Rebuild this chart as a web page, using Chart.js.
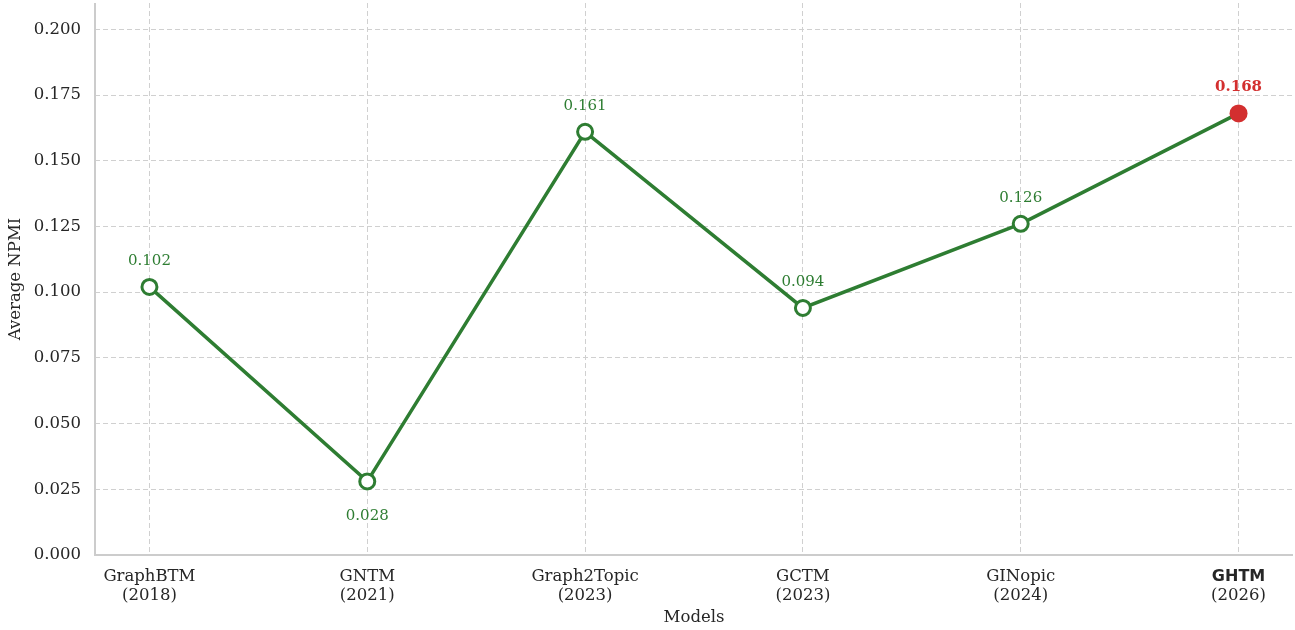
<!DOCTYPE html>
<html>
<head>
<meta charset="utf-8">
<script src="https://cdn.jsdelivr.net/npm/chart.js@4"></script>
<style>
  html, body { margin: 0; padding: 0; background: #fff; }
  #chart { display: block; }
</style>
</head>
<body>
<canvas id="chart" width="1295" height="630"></canvas>
<script>
// 数据
const modelNames = ['GraphBTM', 'GNTM', 'Graph2Topic', 'GCTM', 'GINopic', 'GHTM'];
const modelYears = ['(2018)', '(2021)', '(2023)', '(2023)', '(2024)', '(2026)'];
const npmiValues = [0.102, 0.028, 0.161, 0.094, 0.126, 0.168];
const labelBelow = [false, true, false, false, false, false];
const yTicks = [0, 0.025, 0.05, 0.075, 0.1, 0.125, 0.15, 0.175, 0.2];

const GREEN = '#2e7d32';
const RED = '#d32f2f';
const TEXT = '#262626';
const SERIF = '"DejaVu Serif", serif';
const bestIndex = npmiValues.length - 1;

// 数据点标签 + 两行x轴标签 + 坐标轴线
const labelPlugin = {
    id: 'labelPlugin',
    beforeDatasetsDraw(chart) {
        const ctx = chart.ctx;
        const a = chart.chartArea;
        ctx.save();
        ctx.strokeStyle = '#cccccc';
        ctx.lineWidth = 2;
        ctx.setLineDash([]);
        ctx.beginPath();
        ctx.moveTo(a.left, a.top);
        ctx.lineTo(a.left, a.bottom);
        ctx.lineTo(a.right, a.bottom);
        ctx.stroke();
        ctx.restore();
    },
    afterDatasetsDraw(chart) {
        const ctx = chart.ctx;
        const meta = chart.getDatasetMeta(0);
        ctx.save();
        ctx.textAlign = 'center';
        ctx.textBaseline = 'middle';
        meta.data.forEach((pt, i) => {
            const best = i === bestIndex;
            ctx.font = (best ? 'bold ' : '') + '15px ' + SERIF;
            ctx.fillStyle = best ? RED : GREEN;
            const dy = labelBelow[i] ? 35 : -26;
            ctx.fillText(npmiValues[i].toFixed(3), pt.x, pt.y + dy);
        });

        const xs = chart.scales.x;
        const top = chart.chartArea.bottom;
        modelNames.forEach((name, i) => {
            const x = xs.getPixelForValue(i);
            ctx.fillStyle = TEXT;
            ctx.font = i === bestIndex ? 'bold 16px "DejaVu Sans", sans-serif' : '16.5px ' + SERIF;
            ctx.fillText(name, x, top + 22);
            ctx.font = '16.5px ' + SERIF;
            ctx.fillText(modelYears[i], x, top + 41);
        });
        ctx.restore();
    }
};

const points = npmiValues.map((v, i) => ({ x: i, y: v }));

new Chart(document.getElementById('chart'), {
    type: 'line',
    data: {
        datasets: [{
            label: 'Average NPMI',
            data: points,
            borderColor: GREEN,
            borderWidth: 3.5,
            tension: 0,
            clip: false,
            pointRadius: npmiValues.map((v, i) => i === bestIndex ? 9 : 7.5),
            pointBorderWidth: npmiValues.map((v, i) => i === bestIndex ? 0 : 3),
            pointBackgroundColor: npmiValues.map((v, i) => i === bestIndex ? RED : '#ffffff'),
            pointBorderColor: npmiValues.map((v, i) => i === bestIndex ? RED : GREEN)
        }]
    },
    options: {
        responsive: false,
        animation: false,
        layout: { autoPadding: false, padding: { left: 0, right: 2, top: 3, bottom: 0 } },
        plugins: {
            legend: { display: false },
            tooltip: { enabled: false }
        },
        scales: {
            x: {
                type: 'linear',
                min: -0.25,
                max: 5.25,
                afterBuildTicks: (scale) => {
                    scale.ticks = modelNames.map((n, i) => ({ value: i }));
                },
                afterFit: (scale) => {
                    scale.height = 75;
                    scale.paddingLeft = 0;
                    scale.paddingRight = 0;
                },
                ticks: { display: false },
                grid: {
                    color: '#d0d0d0',
                    lineWidth: 1,
                    drawTicks: false
                },
                border: { display: false, dash: [5, 3] },
                title: {
                    display: true,
                    text: 'Models',
                    color: TEXT,
                    font: { family: SERIF, size: 16.5 },
                    padding: { top: 2, bottom: 2 }
                }
            },
            y: {
                min: 0,
                max: 0.21,
                afterBuildTicks: (scale) => {
                    scale.ticks = yTicks.map(v => ({ value: v }));
                },
                afterFit: (scale) => {
                    scale.width = 95;
                    scale.paddingTop = 0;
                    scale.paddingBottom = 0;
                },
                ticks: {
                    color: TEXT,
                    padding: 14,
                    font: { family: SERIF, size: 16.5 },
                    callback: (v) => Number(v).toFixed(3)
                },
                grid: {
                    color: '#d0d0d0',
                    lineWidth: 1,
                    drawTicks: false
                },
                border: { display: false, dash: [5, 3] },
                title: {
                    display: true,
                    text: 'Average NPMI',
                    color: TEXT,
                    font: { family: SERIF, size: 16.5 },
                    padding: { top: 6, bottom: 2 }
                }
            }
        }
    },
    plugins: [labelPlugin]
});
</script>
</body>
</html>
